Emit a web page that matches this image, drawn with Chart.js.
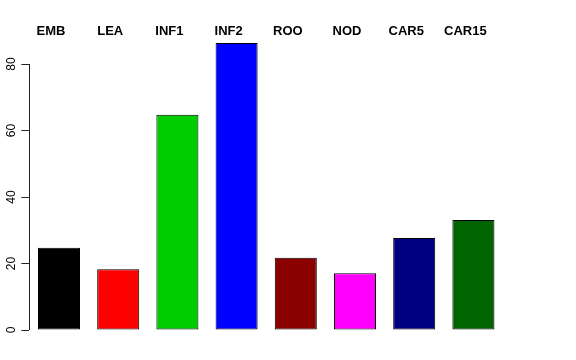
<!DOCTYPE html>
<html>
<head>
<meta charset="utf-8">
<script src="https://cdn.jsdelivr.net/npm/chart.js@4/dist/chart.umd.min.js"></script>
<style>
  html, body { margin: 0; padding: 0; background: #fff; }
  #wrap { width: 576px; height: 360px; }
</style>
</head>
<body>
<div id="wrap"><canvas id="grafica"></canvas></div>
<script>
// datos
const categorias = ['EMB', 'LEA', 'INF1', 'INF2', 'ROO', 'NOD', 'CAR5', 'CAR15'];
const valores    = [24.7, 18.3, 64.7, 86.3, 21.7, 17.1, 27.7, 33.1];
const colores    = ['#000000', '#FF0000', '#00CD00', '#0000FF', '#8B0000', '#FF00FF', '#000080', '#006400'];
const yTicks     = [0, 20, 40, 60, 80];

// línea del eje y solo entre el primer y el último tick (estilo R)
const ejeY = {
    id: 'ejeY',
    afterDraw(chart) {
        const y = chart.scales.y;
        const ctx = chart.ctx;
        const x = Math.round(y.right) + 0.5;
        ctx.save();
        ctx.strokeStyle = '#222';
        ctx.lineWidth = 1;
        ctx.beginPath();
        ctx.moveTo(x, y.getPixelForValue(yTicks[0]));
        ctx.lineTo(x, y.getPixelForValue(yTicks[yTicks.length - 1]));
        ctx.stroke();
        ctx.restore();
    }
};

new Chart(document.getElementById('grafica'), {
    type: 'bar',
    data: {
        labels: categorias,
        datasets: [{
            data: valores,
            backgroundColor: colores,
            borderColor: '#000',
            borderWidth: 1,
            borderSkipped: false,
            categoryPercentage: 1,
            barPercentage: 0.71
        }]
    },
    options: {
        responsive: true,
        maintainAspectRatio: false,
        animation: false,
        layout: { padding: { top: 17.4, right: 73, bottom: 30, left: 0 } },
        plugins: { legend: { display: false }, tooltip: { enabled: false } },
        scales: {
            x: {
                position: 'top',
                grid: { display: false },
                border: { display: false },
                ticks: {
                    color: '#000',
                    padding: -9.5,
                    labelOffset: -8,
                    maxRotation: 0,
                    font: { family: 'Liberation Sans, Arial, sans-serif', size: 13, weight: 'bold' }
                },
                afterFit: s => { s.height = 20; }
            },
            y: {
                min: 0,
                max: 88,
                grid: { drawOnChartArea: false, drawTicks: true, tickLength: 8, color: '#222' },
                border: { display: false },
                ticks: {
                    color: '#000',
                    minRotation: 90,
                    maxRotation: 90,
                    crossAlign: 'center',
                    padding: 3,
                    font: { family: 'Liberation Sans, Arial, sans-serif', size: 12 }
                },
                afterBuildTicks: s => { s.ticks = yTicks.map(v => ({ value: v })); },
                afterFit: s => { s.width = 29.4; }
            }
        }
    },
    plugins: [ejeY]
});
</script>
</body>
</html>
